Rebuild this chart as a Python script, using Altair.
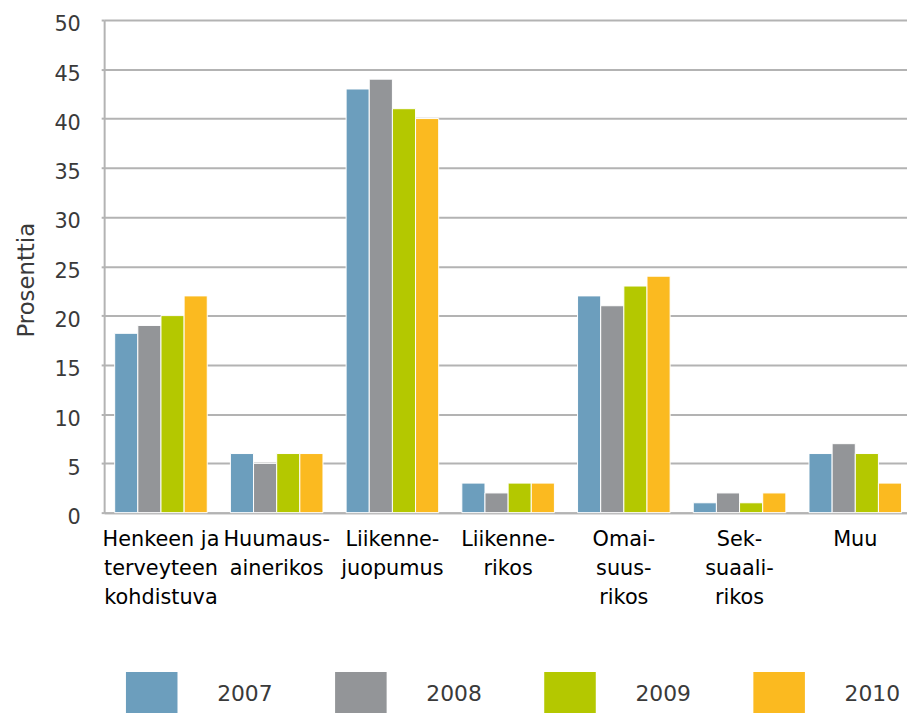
import altair as alt
import pandas as pd

categories = ["Henkeen ja|terveyteen|kohdistuva", "Huumaus-|ainerikos", "Liikenne-|juopumus",
              "Liikenne-|rikos", "Omai-|suus-|rikos", "Sek-|suaali-|rikos", "Muu"]
years = ["2007", "2008", "2009", "2010"]
v2007 = [18.2, 6, 43, 3, 22, 1, 6]
v2008 = [19, 5, 44, 2, 21, 2, 7]
v2009 = [20, 6, 41, 3, 23, 1, 6]
v2010 = [22, 6, 40, 3, 24, 2, 3]
colors = ["#6C9EBD", "#939598", "#B4C800", "#FBBA20"]
y_ticks = list(range(0, 51, 5))

series = {"2007": v2007, "2008": v2008, "2009": v2009, "2010": v2010}
rows = []
for yr in years:
    for c, v in zip(categories, series[yr]):
        rows.append({"kategoria": c, "vuosi": yr, "arvo": v})
df = pd.DataFrame(rows)

grid_col = "#B3B3B3"
font = "DejaVu Sans"

chart = alt.Chart(df).mark_bar(stroke="white", strokeWidth=1).encode(
    x=alt.X("kategoria:N", sort=categories,
            scale=alt.Scale(paddingInner=0.2, paddingOuter=0.069, align=0.66),
            axis=alt.Axis(title=None, labelAngle=0, ticks=False, tickSize=0,
                          labelExpr="split(datum.label, '|')",
                          labelFont=font, labelFontSize=21, labelColor="#000000",
                          labelBaseline="alphabetic", labelPadding=33, labelLineHeight=29.5,
                          domainColor=grid_col, domainWidth=2, grid=False)),
    xOffset=alt.XOffset("vuosi:N", sort=years, scale=alt.Scale(paddingInner=0, paddingOuter=0)),
    y=alt.Y("arvo:Q", scale=alt.Scale(domain=[0, 50], nice=False),
            axis=alt.Axis(title="Prosenttia", values=y_ticks, format="d",
                          labelFont=font, labelFontSize=21, labelColor="#3A3A3A",
                          labelPadding=21, labelOffset=5, tickSize=3, tickColor=grid_col, tickWidth=2,
                          domainColor=grid_col, domainWidth=2,
                          gridColor=grid_col, gridWidth=2,
                          titleFont=font, titleFontSize=23, titleFontWeight="normal",
                          titleColor="#3A3A3A", titleAngle=-90, titleBaseline="alphabetic",
                          titleAlign="center", titleX=-71, titleY=262)),
    color=alt.Color("vuosi:N", sort=years,
                    scale=alt.Scale(domain=years, range=colors),
                    legend=alt.Legend(title=None, orient="none", direction="horizontal",
                                      legendX=22, legendY=654, columns=4, columnPadding=63,
                                      symbolType="M-1,-0.865H1V0.865H-1Z", symbolSize=2704,
                                      symbolStrokeWidth=0, symbolOpacity=1,
                                      labelFont=font, labelFontSize=22, labelColor="#3A3A3A",
                                      labelOffset=40, padding=0)),
).properties(
    width=810, height=497,
    autosize=alt.AutoSizeParams(type="none"),
    padding={"left": 97, "top": 9, "right": 0, "bottom": 199},
).configure_view(stroke=None)

chart.save("out.html", embed_options={"renderer": "svg", "actions": False})
